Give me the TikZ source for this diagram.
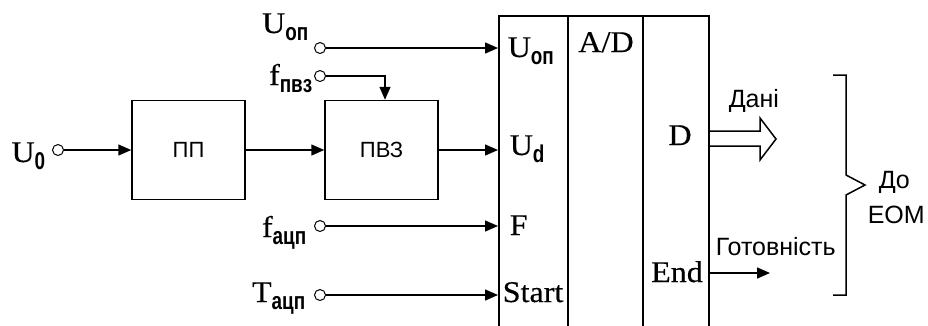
\documentclass[tikz,border=0pt]{standalone}
\usepackage{fontspec}
\setmainfont[FakeStretch=1.07,FakeBold=0.4]{Liberation Serif}
\newfontfamily\cyrsans{Liberation Sans}
\newfontfamily\subsans[FakeStretch=1.05]{Liberation Sans}
\usetikzlibrary{arrows.meta}
\newcommand\lbsub[1]{\raisebox{-7pt}{\scalebox{1}[1.35]{\subsans\bfseries\fontsize{18}{18}\selectfont #1}}}
\begin{document}
\begin{tikzpicture}[x=1pt,y=-1pt, line width=1.5pt,
 term/.style={circle,draw,line width=1pt,fill=white,minimum size=11pt,inner sep=0pt},
 blk/.style={draw,minimum width=113pt,minimum height=99pt,inner sep=0pt,font=\cyrsans\fontsize{22}{22}\selectfont},
 arr/.style={-{Triangle[length=13pt,width=11pt]}},
 ser/.style={font=\fontsize{30}{30}\selectfont,inner sep=0pt},
 cyr/.style={font=\cyrsans\fontsize{25}{25}\selectfont,inner sep=0pt}]
\useasboundingbox (0,0) rectangle (928,325);

% blocks
\node[blk] (pp) at (188.5,150) {ПП};
\node[blk] (pvz) at (381.5,150) {ПВЗ};
\node[draw,minimum width=210pt,minimum height=314pt,anchor=north west,inner sep=0pt] (adc) at (498,15) {};
\draw ([xshift=70pt]adc.north west) -- ([xshift=70pt]adc.south west);
\draw ([xshift=145pt]adc.north west) -- ([xshift=145pt]adc.south west);

% terminals
\node[term] (u0) at (58,150) {};
\node[term] (uop) at (320,48) {};
\node[term] (fpvz) at (320,76) {};
\node[term] (fadc) at (320,226) {};
\node[term] (tadc) at (320,295) {};

% outside labels
\node[ser,anchor=base east] (lu0) at (46,162) {U\lbsub{0}};
\node[ser,anchor=base east] (luop) at (309,33) {U\lbsub{оп}};
\node[ser,anchor=base east] (lfpvz) at (313,85) {f\lbsub{пвз}};
\node[ser,anchor=base east] (lfadc) at (307,237) {f\lbsub{ацп}};
\node[ser,anchor=base east] (ltadc) at (306,302) {T\lbsub{ацп}};

% connectors
\draw[arr] (u0) -- (pp.west |- u0);
\draw[arr] (pp) -- (pvz);
\draw[arr] (pvz.east) -- (adc.west |- pvz.east);
\draw[arr] (uop) -- (adc.west |- uop);
\draw[arr] (fpvz) -| ([xshift=3.5pt]pvz.north);
\draw[arr] (fadc) -- (adc.west |- fadc);
\draw[arr] (tadc) -- (adc.west |- tadc);

% ADC inner labels
\node[ser,anchor=base west] (iuop) at (507,57) {U\lbsub{оп}};
\node[ser,anchor=base west] (iud) at (509,155) {U\lbsub{d}};
\node[ser,anchor=base west] (iF) at (509,235) {F};
\node[ser,anchor=base west] (ist) at (502,302) {Start};
\node[ser,anchor=base] (ad) at (606,52) {A/D};
\node[ser,anchor=base] (dd) at (680,145) {D};
\node[ser,anchor=base] (en) at (677,282) {End};

% outputs
\coordinate (dtip) at (776,139);
\coordinate (gtip) at (770,273);
\draw (adc.east |- 0,131) -- (760,131) -- (760,118) -- (dtip) -- (760,160) -- (760,146) -- (adc.east |- 0,146);
\draw[arr] (adc.east |- gtip) -- (gtip);
\node[cyr,anchor=base west] (dani) at (728,107) {Дані};
\node[cyr,anchor=base west] (gotov) at (715,255) {Готовність};

% bracket
\draw (833,75) -- (846,75) -- (846,175) -- (865,185) -- (846,195) -- (846,295) -- (833,295);
\node[cyr,anchor=base west] (do) at (878,188) {До};
\node[cyr,anchor=base west] (eom) at (867,223) {ЕОМ};
\end{tikzpicture}
\end{document}
